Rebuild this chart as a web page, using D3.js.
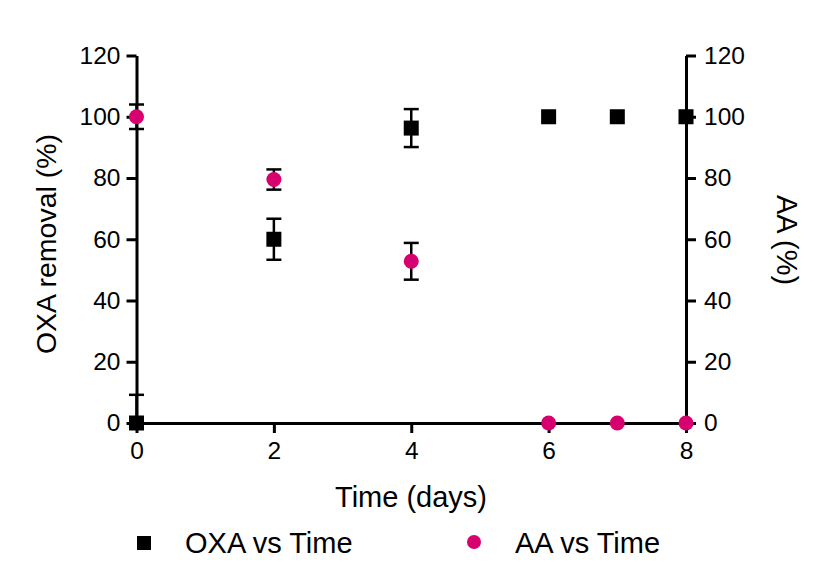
<!DOCTYPE html>
<html>
<head>
<meta charset="utf-8">
<script src="https://cdn.jsdelivr.net/npm/d3@7"></script>
<style>
  body { margin: 0; background: #fff; }
  svg text { font-family: "Liberation Sans", Arial, sans-serif; fill: #000; }
</style>
</head>
<body>
<svg id="chart" width="814" height="580"></svg>
<script>
// values
const times = [0, 2, 4, 6, 7, 8];
const oxaRemoval = [0, 60, 96.3, 100, 100, 100];
const oxaErr = [9.2, 6.7, 6.2, 0, 0, 0];
const aaPct = [100, 79.5, 52.8, 0, 0, 0];
const aaErr = [4, 3.3, 6, 0, 0, 0];
const xTicks = [0, 2, 4, 6, 8];
const yTicks = [0, 20, 40, 60, 80, 100, 120];

const pink = "#d6006e";

const svg = d3.select("#chart");
svg.append("rect").attr("width", 814).attr("height", 580).attr("fill", "#fff");

const x = d3.scaleLinear().domain([0, 8]).range([136.5, 686]);
const y = d3.scaleLinear().domain([0, 120]).range([423, 55.5]);

const axes = svg.append("g");
const marks = svg.append("g");

function styleAxis(g) {
    g.selectAll("path, line").attr("stroke", "#000").attr("stroke-width", 3);
    g.selectAll("text").style("font-size", "24.5px").attr("fill", "#000");
    g.attr("font-family", null).attr("font-size", null);
}

axes.append("g")
    .attr("transform", `translate(0, ${y(0)})`)
    .call(d3.axisBottom(x).tickValues(xTicks).tickSize(10).tickSizeOuter(0).tickPadding(9))
    .call(styleAxis);

axes.append("g")
    .attr("transform", `translate(${x(0)}, 0)`)
    .call(d3.axisLeft(y).tickValues(yTicks).tickSize(10).tickSizeOuter(0).tickPadding(6))
    .call(styleAxis);

axes.append("g")
    .attr("transform", `translate(${x(8)}, 0)`)
    .call(d3.axisRight(y).tickValues(yTicks).tickSize(10).tickSizeOuter(0).tickPadding(8))
    .call(styleAxis);

// axis titles
svg.append("text")
    .attr("x", 411).attr("y", 507)
    .attr("text-anchor", "middle")
    .style("font-size", "29px")
    .text("Time (days)");

svg.append("text")
    .attr("transform", "translate(56, 244) rotate(-90)")
    .attr("text-anchor", "middle")
    .style("font-size", "28.5px")
    .text("OXA removal (%)");

svg.append("text")
    .attr("transform", "translate(777, 240) rotate(90)")
    .attr("text-anchor", "middle")
    .style("font-size", "29px")
    .text("AA (%)");

// error bars, cut at the x axis
function errorBars(vals, errs) {
    const rows = times.map((t, i) => ({ t, v: vals[i], e: errs[i] })).filter(d => d.e > 0);
    const g = marks.append("g").attr("stroke", "#000").attr("stroke-width", 2.5);
    rows.forEach(d => {
        const lo = Math.max(0, d.v - d.e), hi = d.v + d.e;
        g.append("line")
            .attr("x1", x(d.t)).attr("x2", x(d.t))
            .attr("y1", y(lo)).attr("y2", y(hi));
        [lo, hi].forEach(b => {
            if (b === d.v - d.e || b === hi) {
                g.append("line")
                    .attr("x1", x(d.t) - 7.5).attr("x2", x(d.t) + 7.5)
                    .attr("y1", y(b)).attr("y2", y(b));
            }
        });
    });
}
errorBars(oxaRemoval, oxaErr);
errorBars(aaPct, aaErr);

const sq = 15;
marks.append("g").selectAll("rect")
    .data(times.map((t, i) => [t, oxaRemoval[i]]))
    .join("rect")
    .attr("x", d => x(d[0]) - sq / 2)
    .attr("y", d => y(d[1]) - sq / 2)
    .attr("width", sq).attr("height", sq)
    .attr("fill", "#000");

marks.append("g").selectAll("circle")
    .data(times.map((t, i) => [t, aaPct[i]]))
    .join("circle")
    .attr("cx", d => x(d[0]))
    .attr("cy", d => y(d[1]))
    .attr("r", 7.5)
    .attr("fill", pink);

// legend
const legend = svg.append("g");
legend.append("rect")
    .attr("x", 137).attr("y", 536).attr("width", 14).attr("height", 14)
    .attr("fill", "#000");
legend.append("text")
    .attr("x", 185).attr("y", 553)
    .style("font-size", "29px")
    .text("OXA vs Time");
legend.append("circle")
    .attr("cx", 474).attr("cy", 542).attr("r", 7)
    .attr("fill", pink);
legend.append("text")
    .attr("x", 515).attr("y", 553)
    .style("font-size", "29px")
    .text("AA vs Time");
</script>
</body>
</html>
